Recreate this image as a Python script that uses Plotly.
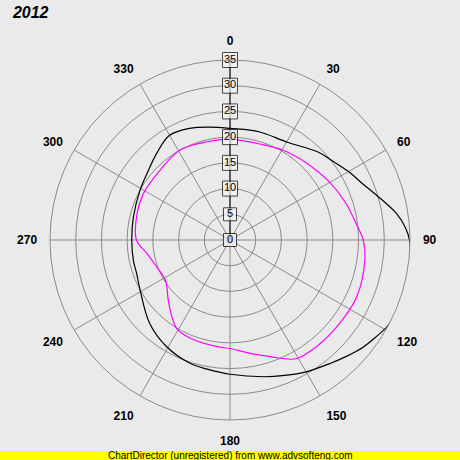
import plotly.graph_objects as go

black_theta = [0, 15, 30, 45, 52, 60, 67, 73, 81, 86, 90, 97, 104, 111, 118, 124, 129, 135,
               141, 150, 158, 166, 180, 190, 198, 211, 224, 241, 250, 258, 270, 283, 299,
               309, 320, 330, 340, 350, 360]
black_r = [21.7, 21.8, 22.0, 24.2, 25.1, 26.6, 28.0, 29.8, 32.8, 34.2, 34.9, 35.2, 35.3,
           35.4, 35.0, 34.0, 33.2, 32.0, 30.9, 29.6, 28.4, 27.4, 26.1, 25.5, 25.2, 24.1,
           22.5, 20.0, 19.3, 19.2, 19.1, 19.3, 20.0, 20.7, 22.1, 23.5, 23.1, 22.3, 21.7]
magenta_theta = [0, 19, 31, 45, 60, 72, 83, 90, 98, 114, 127, 141, 151, 161, 170, 180, 187,
                 202, 211, 218, 226, 238, 250, 261, 270, 286, 298, 315, 331, 347, 360]
magenta_r = [19.6, 19.6, 20.3, 21.1, 22.4, 23.6, 24.8, 25.9, 26.5, 27.0, 26.8, 26.7, 26.4,
             24.0, 22.4, 21.1, 20.9, 20.6, 20.1, 18.5, 16.7, 14.8, 15.2, 16.4, 18.2, 18.8,
             19.1, 19.2, 20.0, 19.6, 19.6]
radial_ticks = [0, 5, 10, 15, 20, 25, 30, 35]
angular_ticks = [0, 30, 60, 90, 120, 150, 180, 210, 240, 270, 300, 330]
title_text = "2012"
footer_text = "ChartDirector (unregistered) from www.advsofteng.com"

bg = "#eaeaea"
grid = "#8a8a8a"

fig = go.Figure()
fig.add_trace(go.Scatterpolar(r=black_r, theta=black_theta, mode="lines",
                              line=dict(color="#000000", width=1.2, shape="spline"),
                              cliponaxis=False, showlegend=False, hoverinfo="skip"))
fig.add_trace(go.Scatterpolar(r=magenta_r, theta=magenta_theta, mode="lines",
                              line=dict(color="#ff00ff", width=1.2, shape="spline"),
                              cliponaxis=False, showlegend=False, hoverinfo="skip"))
fig.add_trace(go.Scatterpolar(
    r=radial_ticks, theta=[0] * len(radial_ticks), mode="markers+text",
    text=[str(v) for v in radial_ticks], textposition="middle center",
    textfont=dict(family="Liberation Sans, Arial", size=11, color="#000000"),
    marker=dict(symbol="square", size=[13 if v < 10 else 15 for v in radial_ticks],
                color="#f4f4f4", line=dict(color="#000000", width=1)),
    cliponaxis=False, showlegend=False, hoverinfo="skip"))

fig.update_layout(
    width=460, height=460,
    paper_bgcolor=bg,
    margin=dict(l=50, r=50, t=60, b=40),
    polar=dict(
        bgcolor=bg,
        domain=dict(x=[0, 1], y=[0, 1]),
        angularaxis=dict(
            direction="clockwise", rotation=90,
            tickmode="array", tickvals=angular_ticks,
            ticktext=[str(a) for a in angular_ticks],
            tickfont=dict(family="Liberation Sans, Arial", size=12, color="#000000",
                          weight="bold"),
            ticks="outside", ticklen=10, tickcolor="rgba(0,0,0,0)",
            showline=True, linecolor=grid, linewidth=1,
            gridcolor=grid, gridwidth=1,
        ),
        radialaxis=dict(
            range=[0, 35], angle=90, tickangle=90, layer="below traces",
            tickmode="array", tickvals=radial_ticks[1:],
            showticklabels=False, ticks="",
            showline=True, linecolor="#000000", linewidth=1,
            gridcolor=grid, gridwidth=1,
        ),
    ),
    title=dict(text="<b><i>" + title_text + "</i></b>", xref="container", yref="container",
               x=0.028, y=0.974, xanchor="left", yanchor="middle",
               font=dict(family="Liberation Sans, Arial", size=16, color="#000000")),
    shapes=[dict(type="rect", xref="paper", yref="paper",
                 x0=-0.2, x1=1.2, y0=-0.12, y1=(420 - 451) / 360,
                 fillcolor="#ffff00", line=dict(width=0), layer="below")],
    annotations=[dict(text=footer_text, xref="paper", yref="paper",
                      x=0.5, y=(420 - 455.5) / 360, xanchor="center", yanchor="middle",
                      showarrow=False,
                      font=dict(family="Liberation Sans, Arial", size=10, color="#000000"))],
)

fig.write_html("out.html")
